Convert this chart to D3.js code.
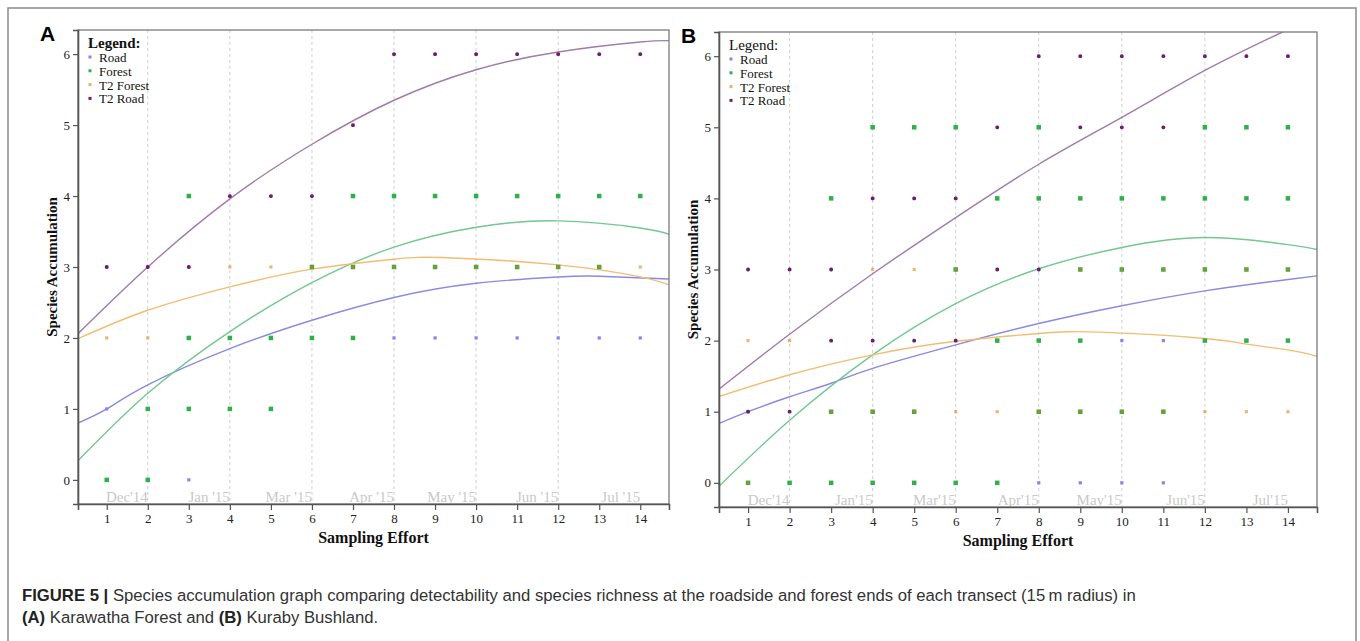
<!DOCTYPE html>
<html>
<head>
<meta charset="utf-8">
<script src="https://cdn.jsdelivr.net/npm/d3@7"></script>
<style>
  body { margin: 0; background: #fff; }
  svg { display: block; }
</style>
</head>
<body>
<div id="container"></div>
<script>
// ---- data ----
var effortTicks = [1, 2, 3, 4, 5, 6, 7, 8, 9, 10, 11, 12, 13, 14];
var countTicks = [0, 1, 2, 3, 4, 5, 6];
var gridAt = [2, 4, 6, 8, 10, 12];
var monthAt = [2, 4, 6, 8, 10, 12, 14];
var monthLabelsA = ["Dec'14", "Jan '15", "Mar '15", "Apr '15", "May '15", "Jun '15", "Jul '15"];
var monthLabelsB = ["Dec'14", "Jan'15", "Mar'15", "Apr'15", "May'15", "Jun'15", "Jul'15"];
var seriesNames = ["Road", "Forest", "T2 Forest", "T2 Road"];

// Panel A - Karawatha Forest, points [effort, species]
var roadA = [[1, 1], [3, 0], [8, 2], [9, 2], [10, 2], [11, 2], [12, 2], [13, 2], [14, 2]];
var forestA = [[1, 0], [2, 0], [2, 1], [3, 1], [4, 1], [5, 1], [3, 2], [4, 2], [5, 2], [6, 2], [7, 2],
  [6, 3], [7, 3], [8, 3], [9, 3], [10, 3], [11, 3], [12, 3], [13, 3],
  [3, 4], [7, 4], [8, 4], [9, 4], [10, 4], [11, 4], [12, 4], [13, 4], [14, 4]];
var t2ForestA = [[1, 2], [2, 2], [4, 3], [5, 3], [6, 3], [7, 3], [8, 3], [9, 3], [10, 3], [11, 3], [12, 3], [13, 3], [14, 3]];
var t2RoadA = [[1, 3], [2, 3], [3, 3], [4, 4], [5, 4], [6, 4], [7, 5],
  [8, 6], [9, 6], [10, 6], [11, 6], [12, 6], [13, 6], [14, 6]];

// fitted curves of panel A
var roadFitA = [[0.3, 0.80], [1, 1.0], [2, 1.34], [4, 1.85], [6, 2.25], [8, 2.57], [10, 2.77], [12, 2.86], [13, 2.87], [14.7, 2.83]];
var forestFitA = [[0.3, 0.27], [2, 1.22], [4, 2.09], [6, 2.78], [8, 3.28], [10, 3.56], [12, 3.65], [14, 3.55], [14.7, 3.46]];
var t2ForestFitA = [[0.3, 1.99], [2, 2.39], [4, 2.72], [6, 2.97], [8, 3.11], [9.3, 3.13], [12, 3.03], [14, 2.86], [14.7, 2.75]];
var t2RoadFitA = [[0.3, 2.06], [2, 3.0], [4, 3.96], [6, 4.73], [8, 5.35], [10, 5.78], [12, 6.03], [14, 6.17], [14.7, 6.19]];

// Panel B - Kuraby Bushland
var roadB = [[1, 1], [10, 2], [11, 2], [8, 0], [9, 0], [10, 0], [11, 0]];
var forestB = [[1, 0], [2, 0], [3, 0], [4, 0], [5, 0], [6, 0], [7, 0],
  [3, 1], [4, 1], [5, 1], [8, 1], [9, 1], [10, 1], [11, 1],
  [7, 2], [8, 2], [9, 2], [12, 2], [13, 2], [14, 2],
  [6, 3], [9, 3], [10, 3], [11, 3], [12, 3], [13, 3], [14, 3],
  [3, 4], [7, 4], [8, 4], [9, 4], [10, 4], [11, 4], [12, 4], [13, 4], [14, 4],
  [4, 5], [5, 5], [6, 5], [8, 5], [12, 5], [13, 5], [14, 5]];
var t2ForestB = [[1, 0], [1, 2], [2, 2], [3, 1], [4, 1], [5, 1], [6, 1], [7, 1], [8, 1], [9, 1], [10, 1], [11, 1], [12, 1], [13, 1], [14, 1],
  [4, 3], [5, 3], [6, 3], [9, 3], [10, 3], [11, 3], [12, 3], [13, 3], [14, 3]];
var t2RoadB = [[1, 1], [2, 1], [3, 2], [4, 2], [5, 2], [6, 2], [1, 3], [2, 3], [3, 3], [7, 3], [8, 3],
  [4, 4], [5, 4], [6, 4], [7, 5], [9, 5], [10, 5], [11, 5],
  [8, 6], [9, 6], [10, 6], [11, 6], [12, 6], [13, 6], [14, 6]];

var roadFitB = [[0.28, 0.83], [1, 1.0], [2, 1.21], [3, 1.40], [4, 1.61], [6, 1.94], [8, 2.24], [10, 2.49], [12, 2.70], [14, 2.86], [14.7, 2.91]];
var forestFitB = [[0.28, -0.06], [2, 0.88], [4, 1.80], [6, 2.52], [8, 3.01], [10, 3.31], [12, 3.45], [14, 3.35], [14.7, 3.28]];
var t2ForestFitB = [[0.28, 1.21], [2, 1.52], [4, 1.80], [6, 1.99], [8, 2.10], [9.5, 2.12], [12, 2.03], [13, 1.95], [14, 1.87], [14.7, 1.78]];
var t2RoadFitB = [[0.28, 1.31], [2, 2.09], [4, 2.94], [6, 3.73], [8, 4.48], [10, 5.14], [12, 5.80], [13.87, 6.34]];

// ---- styles ----
var pointColor = { "Road": "#8585f2", "Forest": "#2fb04a", "T2 Forest": "#e07a10", "T2 Road": "#6a1f6e" };
var lineColor = { "Road": "#8a8ae2", "Forest": "#72c890", "T2 Forest": "#f2bd72", "T2 Road": "#a27aab" };

var W = 1360, H = 641;
var svg = d3.select('#container').append('svg')
  .attr('width', W).attr('height', H);

// figure frame
svg.append('rect')
  .attr('x', 8).attr('y', 8).attr('width', 1348).attr('height', 700)
  .attr('fill', 'none').attr('stroke', '#8a8a8a').attr('stroke-width', 1.5);

var panels = [
  { id: 'A', left: 78, top: 30, right: 669, bottom: 504, months: monthLabelsA, boldLegend: true,
    pts: [roadA, forestA, t2ForestA, t2RoadA], fits: [roadFitA, forestFitA, t2ForestFitA, t2RoadFitA] },
  { id: 'B', left: 719, top: 32, right: 1317, bottom: 507, months: monthLabelsB, boldLegend: false,
    pts: [roadB, forestB, t2ForestB, t2RoadB], fits: [roadFitB, forestFitB, t2ForestFitB, t2RoadFitB] }
];

panels.forEach(drawPanel);

function drawPanel(p) {
  var x = d3.scaleLinear().domain([0.3, 14.7]).range([p.left, p.right]);
  var y = d3.scaleLinear().domain([-0.34, 6.34]).range([p.bottom, p.top]);
  var g = svg.append('g');

  g.append('clipPath').attr('id', 'clip' + p.id)
    .append('rect').attr('x', p.left).attr('y', p.top)
    .attr('width', p.right - p.left).attr('height', p.bottom - p.top);

  // dashed vertical guides
  g.selectAll('.grid').data(gridAt).enter().append('line')
    .attr('x1', function (d) { return x(d); }).attr('x2', function (d) { return x(d); })
    .attr('y1', p.top).attr('y2', p.bottom)
    .attr('stroke', '#cfcfcf').attr('stroke-width', 1).attr('stroke-dasharray', '3,3');

  // month labels along the bottom
  g.selectAll('.month').data(p.months).enter().append('text')
    .attr('x', function (d, i) { return x(monthAt[i]); })
    .attr('y', p.bottom - 2)
    .attr('text-anchor', 'end')
    .attr('font-family', 'Liberation Serif, Times New Roman, serif')
    .attr('font-size', 15).attr('fill', '#c9c9c9')
    .text(function (d) { return d; });

  // fitted curves
  var line = d3.line()
    .x(function (d) { return x(d[0]); })
    .y(function (d) { return y(d[1]); })
    .curve(d3.curveNatural);
  var curves = g.append('g').attr('clip-path', 'url(#clip' + p.id + ')');
  p.fits.forEach(function (f, i) {
    curves.append('path').datum(f)
      .attr('d', line).attr('fill', 'none')
      .attr('stroke', lineColor[seriesNames[i]]).attr('stroke-width', 1.4);
  });

  // points
  drawPoints(g, p.pts[0], x, y, 'Road');
  drawPoints(g, p.pts[1], x, y, 'Forest');
  drawPoints(g, p.pts[2], x, y, 'T2 Forest');
  drawPoints(g, p.pts[3], x, y, 'T2 Road');

  // frame
  g.append('rect')
    .attr('x', p.left).attr('y', p.top)
    .attr('width', p.right - p.left).attr('height', p.bottom - p.top)
    .attr('fill', 'none').attr('stroke', '#7a7a7a').attr('stroke-width', 1.3);

  // axes
  var yAxis = g.append('g')
    .attr('transform', 'translate(' + p.left + ',0)')
    .call(d3.axisLeft(y).tickValues(countTicks).tickSize(5).tickPadding(3).tickFormat(d3.format('d')));
  var xAxis = g.append('g')
    .attr('transform', 'translate(0,' + p.bottom + ')')
    .call(d3.axisBottom(x).tickValues(effortTicks).tickSize(6).tickPadding(4).tickFormat(d3.format('d')));
  [xAxis, yAxis].forEach(function (a) {
    a.select('.domain').attr('stroke', '#555').attr('stroke-width', 1.6);
    a.selectAll('.tick line').attr('stroke', '#555').attr('stroke-width', 1.2);
    a.selectAll('.tick text')
      .attr('font-family', 'Liberation Serif, Times New Roman, serif')
      .attr('font-size', 13).attr('fill', '#222');
  });

  // axis titles
  g.append('text')
    .attr('x', (p.left + p.right) / 2).attr('y', p.bottom + 39)
    .attr('text-anchor', 'middle')
    .attr('font-family', 'Liberation Serif, Times New Roman, serif')
    .attr('font-size', 16).attr('font-weight', 'bold').attr('fill', '#111')
    .text('Sampling Effort');
  g.append('text')
    .attr('transform', 'translate(' + (p.left - 21) + ',' + ((p.top + p.bottom) / 2) + ') rotate(-90)')
    .attr('text-anchor', 'middle')
    .attr('font-family', 'Liberation Serif, Times New Roman, serif')
    .attr('font-size', 15).attr('font-weight', 'bold').attr('fill', '#111')
    .text('Species Accumulation');

  // panel letter
  g.append('text')
    .attr('x', p.left - 38).attr('y', p.top + 11)
    .attr('font-family', 'Liberation Sans, Arial, sans-serif')
    .attr('font-size', 21).attr('font-weight', 'bold').attr('fill', '#000')
    .text(p.id);

  // legend
  var lg = g.append('g').attr('transform', 'translate(' + (p.left + 10) + ',' + (p.top + 18) + ')');
  lg.append('text')
    .attr('x', 0).attr('y', 0)
    .attr('font-family', 'Liberation Serif, Times New Roman, serif')
    .attr('font-size', 15).attr('font-weight', p.boldLegend ? 'bold' : 'normal').attr('fill', '#111')
    .text('Legend:');
  seriesNames.forEach(function (name, i) {
    var cy = 14 + i * 13.8;
    lg.append('rect')
      .attr('x', 0.5).attr('y', cy - 1.5 - 5)
      .attr('width', 3).attr('height', 3)
      .attr('fill', pointColor[name]).attr('opacity', name === 'T2 Forest' ? 0.6 : 1);
    lg.append('text')
      .attr('x', 11).attr('y', cy)
      .attr('font-family', 'Liberation Serif, Times New Roman, serif')
      .attr('font-size', 13).attr('fill', '#111')
      .text(name);
  });
}

function drawPoints(g, data, x, y, name) {
  var s = name === 'Forest' ? 4.5 : (name === 'T2 Road' ? 3.8 : 3.2);
  g.append('g').selectAll('rect').data(data).enter().append('rect')
    .attr('x', function (d) { return x(d[0]) - s / 2; })
    .attr('y', function (d) { return y(d[1]) - s / 2; })
    .attr('width', s).attr('height', s)
    .attr('rx', name === 'T2 Road' ? 1.6 : 0)
    .attr('fill', pointColor[name])
    .attr('opacity', name === 'T2 Forest' ? 0.55 : 1);
}

// caption
var cap = svg.append('g')
  .attr('font-family', 'Liberation Sans, Arial, Helvetica, sans-serif')
  .attr('font-size', 16.7).attr('fill', '#333');
var l1 = cap.append('text').attr('x', 22).attr('y', 601);
l1.append('tspan').attr('font-weight', 'bold').attr('fill', '#222').text('FIGURE 5 | ');
l1.append('tspan').text('Species accumulation graph comparing detectability and species richness at the roadside and forest ends of each transect (15\u2009m radius) in');
var l2 = cap.append('text').attr('x', 22).attr('y', 623);
l2.append('tspan').attr('font-weight', 'bold').attr('fill', '#222').text('(A)');
l2.append('tspan').text(' Karawatha Forest and ');
l2.append('tspan').attr('font-weight', 'bold').attr('fill', '#222').text('(B)');
l2.append('tspan').text(' Kuraby Bushland.');
</script>
</body>
</html>
